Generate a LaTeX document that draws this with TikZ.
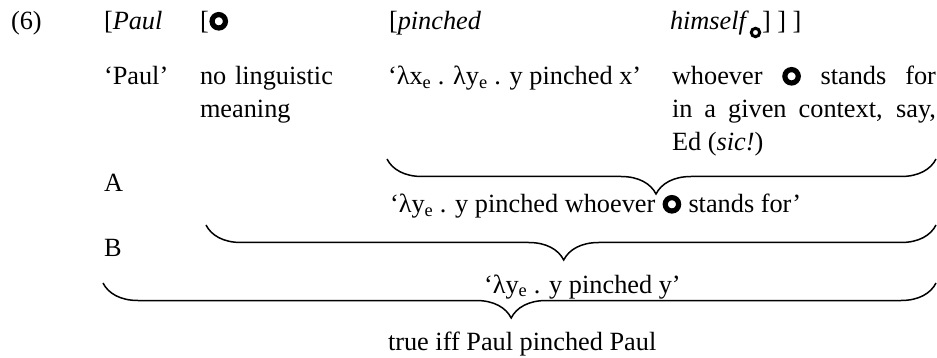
\documentclass[tikz,border=0pt]{standalone}
\usepackage{fontspec}
\setmainfont{Liberation Serif}
\usetikzlibrary{decorations.pathreplacing}
\newcommand\bigring{\tikz[x=1pt,y=1pt,baseline=0pt]{\useasboundingbox (-10,0) rectangle (10,17); \draw[line width=5.2pt] (0,8.7) circle (6.7);}}
\newcommand\smallring{\tikz[x=1pt,y=1pt,baseline=0pt]{\useasboundingbox (-6.5,-8) rectangle (6.5,4); \draw[line width=3pt] (0,-2.5) circle (4.2);}}
\begin{document}
\begin{tikzpicture}[x=1pt,y=-1pt,
  every node/.style={inner sep=0pt, outer sep=0pt, font=\fontsize{26.3pt}{33pt}\selectfont},
  txt/.style={anchor=base west},
  ptext/.style={anchor=base west, text width=#1, align=left},
  bracedown/.style={decorate, decoration={brace, mirror, amplitude=35pt, aspect=0.49}, line width=1.5pt}]
\useasboundingbox (0,0) rectangle (937,358);
% row 1
\node[txt] (ex) at (11,30) {(6)};
\node[txt] (w1) at (104,30) {[\textit{Paul}};
\node[txt] (w2) at (200,30) {[\bigring};
\node[txt] (w3) at (389,30) {[\textit{pinched}};
\node[txt] (w4) at (670,30) {\textit{himself}\smallring] ] ]};
% row 2
\node[txt] (m1) at (104,85) {`Paul'};
\node[ptext=180pt] (m2) at (200,85) {no linguistic\\meaning};
\node[txt] (m3) at (388,85) {`λx\textsubscript{e} . λy\textsubscript{e} . y pinched x'};
\node[ptext=264pt, align=justify] (m4) at (672,85) {whoever \bigring{} stands for\linebreak in a given context, say,\linebreak Ed (\textit{sic!})};
% composition
\node[txt] (A) at (104,192) {A};
\node[txt] (B) at (104,257) {B};
\node[txt] (c1) at (390,213) {`λy\textsubscript{e} . y pinched whoever \bigring{} stands for'};
\node[txt] (c2) at (484,293) {`λy\textsubscript{e} . y pinched y'};
\node[txt] (c3) at (388,350) {true iff Paul pinched Paul};
% braces
\coordinate (b1l) at (387,159); \coordinate (b1r) at (936,159);
\coordinate (b2l) at (206,225); \coordinate (b2r) at (936,225);
\coordinate (b3l) at (103,283); \coordinate (b3r) at (936,283);
\draw[bracedown] (b1l) -- (b1r);
\draw[bracedown] (b2l) -- (b2r);
\draw[bracedown] (b3l) -- (b3r);
\end{tikzpicture}
\end{document}
